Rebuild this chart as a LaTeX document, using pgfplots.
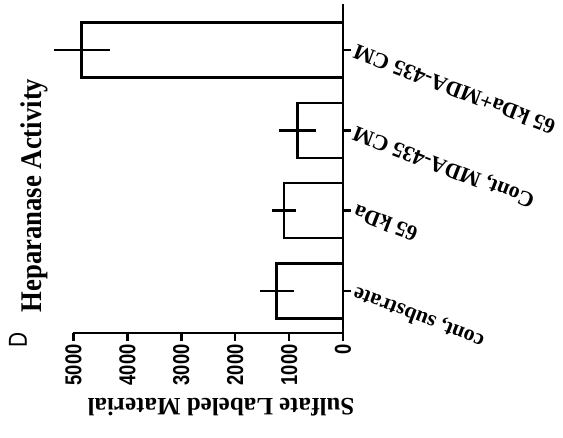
\documentclass[border=0pt]{standalone}
\usepackage{pgfplots}
\pgfplotsset{compat=1.18}
\usepackage{fontspec}
\setmainfont{Liberation Serif}
\newfontfamily\sansf{Liberation Sans}
\newcommand{\tk}[1]{\scalebox{0.8}[1]{#1}}
\begin{document}
\begin{tikzpicture}
\useasboundingbox (-73.5pt,-105pt) rectangle (489.5pt,333pt);
\begin{axis}[
  at={(0pt,0pt)}, anchor=south west,
  scale only axis, width=269.5pt, height=329pt,
  xbar, bar width=55pt,
  x dir=reverse,
  xmin=0, xmax=5000, ymin=-0.523, ymax=3.573,
  enlargelimits=false, clip=false,
  axis x line*=bottom, axis y line*=right,
  axis line style={line width=2.5pt, black},
  tick align=outside, major tick length=8pt,
  tick style={line width=2.5pt, black},
  xtick={0,1000,2000,3000,4000,5000},
  xticklabels={\tk{0},\tk{1000},\tk{2000},\tk{3000},\tk{4000},\tk{5000}},
  xticklabel style={font=\sansf\bfseries\fontsize{23}{25}\selectfont, rotate=90, anchor=east},
  ytick={0,1,2,3},
  yticklabels={{cont, substrate},{65 kDa},{Cont, MDA-435 CM},{65 kDa+MDA-435 CM}},
  yticklabel style={font=\bfseries\fontsize{22}{24}\selectfont, rotate=159, anchor=east},
]
\addplot[draw=black, fill=white, line width=2.5pt,
  error bars/.cd, x dir=both, x explicit, error mark=none,
  error bar style={line width=2.5pt, black}]
  coordinates {
    (1230,0) +- (318,0)
    (1095,1) +- (220,0)
    (840,2)  +- (345,0)
    (4848,3) +- (520,0)
  };
\end{axis}
\node[rotate=90, anchor=base, font=\bfseries\fontsize{30}{32}\selectfont] at (-31.5pt,137.5pt) {\scalebox{0.89}[1]{Heparanase Activity}};
\node[rotate=90, anchor=base, font=\sansf\fontsize{26}{28}\selectfont] at (-46.5pt,-6.5pt) {\scalebox{0.8}[1]{D}};
\node[rotate=180, anchor=base, font=\bfseries\fontsize{25}{27}\selectfont] at (147.5pt,-66pt) {Sulfate Labeled Material};
\end{tikzpicture}
\end{document}
